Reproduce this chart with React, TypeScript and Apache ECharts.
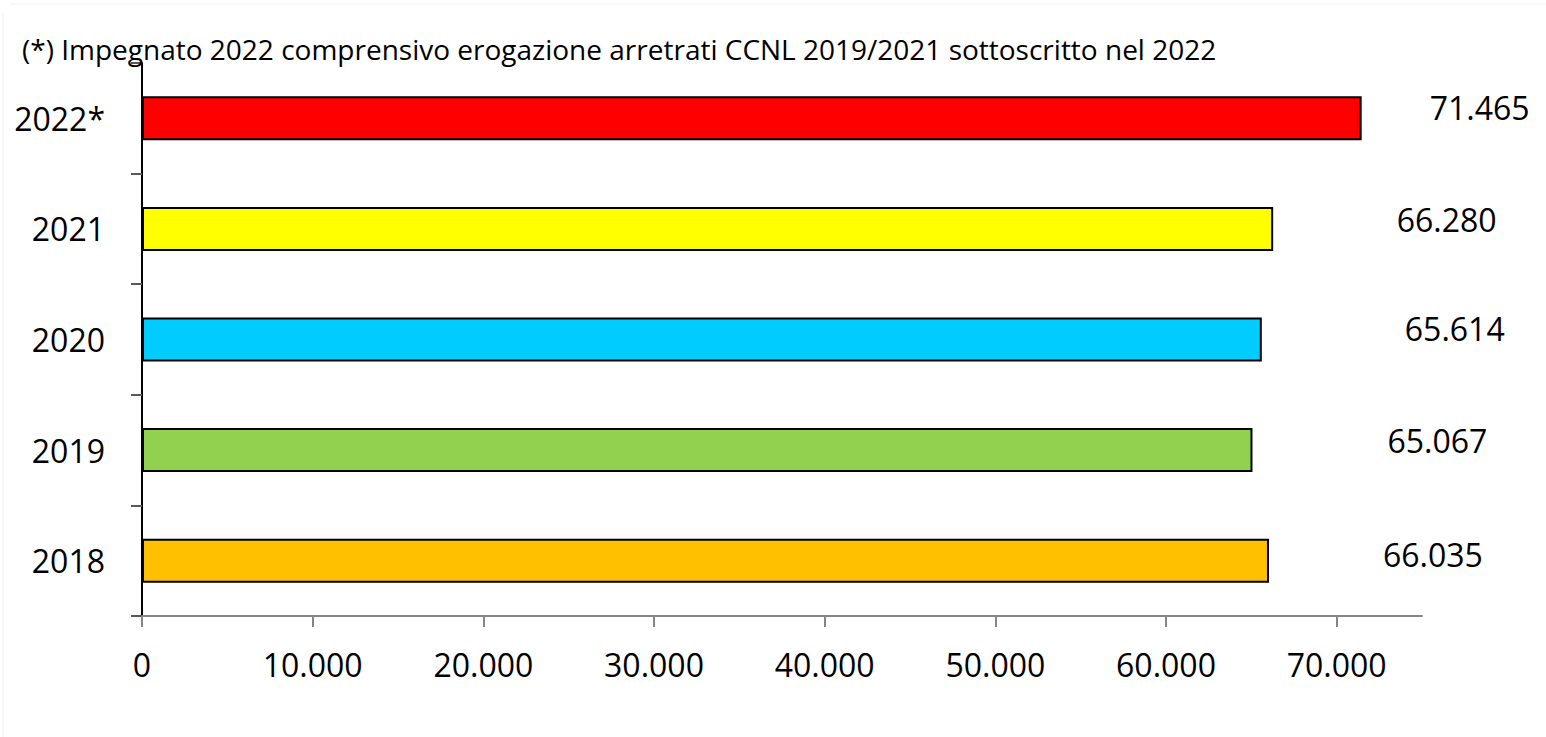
import React, { useEffect, useRef } from "react";
import * as echarts from "echarts";

const categories = ["2018", "2019", "2020", "2021", "2022*"];
const values = [66035, 65067, 65614, 66280, 71465];
const barColors = ["#FFC000", "#92D050", "#00CCFF", "#FFFF00", "#FF0000"];
const labelOffsets = [
  [114, -6],
  [135, -10],
  [143, -11.5],
  [123.5, -9.5],
  [68, -10.5],
];
const xTicks = [0, 10000, 20000, 30000, 40000, 50000, 60000, 70000];
const noteText =
  "(*) Impegnato 2022 comprensivo erogazione arretrati CCNL 2019/2021 sottoscritto nel 2022";

const FONT = "'Open Sans', 'Noto Sans', sans-serif";

const fmt = (v: number) =>
  String(Math.round(v)).replace(/\B(?=(\d{3})+(?!\d))/g, ".");

export default function App() {
  const ref = useRef<HTMLDivElement>(null);
  useEffect(() => {
    if (!ref.current) return;
    const chart = echarts.init(ref.current, undefined, { renderer: "svg" });
    chart.setOption({
      animation: false,
      backgroundColor: "#ffffff",
      textStyle: { fontFamily: FONT },
      title: {
        text: noteText,
        left: 22,
        top: 35,
        padding: 0,
        textStyle: {
          fontFamily: FONT,
          fontSize: 28,
          fontWeight: "normal",
          color: "#000",
        },
      },
      graphic: [
        {
          type: "line",
          shape: { x1: 10, y1: 4, x2: 1546, y2: 4 },
          style: { stroke: "#f0f0f0", lineWidth: 1 },
          silent: true,
        },
        {
          type: "line",
          shape: { x1: 3, y1: 13, x2: 3, y2: 737 },
          style: { stroke: "#f0f0f0", lineWidth: 1 },
          silent: true,
        },
      ],
      grid: { left: 142, right: 124, top: 63, bottom: 121, containLabel: false },
      xAxis: {
        type: "value",
        min: 0,
        max: 75000,
        interval: 10000,
        splitLine: { show: false },
        axisLine: { show: true, lineStyle: { color: "#868686", width: 2 } },
        axisTick: {
          show: true,
          length: 11,
          lineStyle: { color: "#868686", width: 2 },
          customValues: xTicks,
        },
        axisLabel: {
          customValues: xTicks,
          formatter: (v: number) => fmt(v),
          fontFamily: FONT,
          fontSize: 32,
          color: "#000",
          margin: 32,
        },
      },
      yAxis: {
        type: "category",
        data: categories,
        axisLine: { show: true, lineStyle: { color: "#000", width: 2 } },
        axisTick: {
          show: true,
          length: 11,
          lineStyle: { color: "#595959", width: 2 },
        },
        axisLabel: {
          fontFamily: FONT,
          fontSize: 32,
          color: "#000",
          margin: 37,
        },
      },
      series: [
        {
          type: "bar",
          barWidth: 44,
          data: values.map((v, i) => ({
            value: v,
            itemStyle: {
              color: barColors[i],
              borderColor: "#000",
              borderWidth: 2,
            },
            label: {
              show: true,
              position: "right",
              distance: 0,
              offset: labelOffsets[i],
              formatter: () => fmt(v),
              fontFamily: FONT,
              fontSize: 32,
              color: "#000",
            },
          })),
        },
      ],
    });
    return () => chart.dispose();
  }, []);
  return (
    <div
      ref={ref}
      style={{ position: "fixed", left: 0, top: 0, width: 1546, height: 737 }}
    />
  );
}
